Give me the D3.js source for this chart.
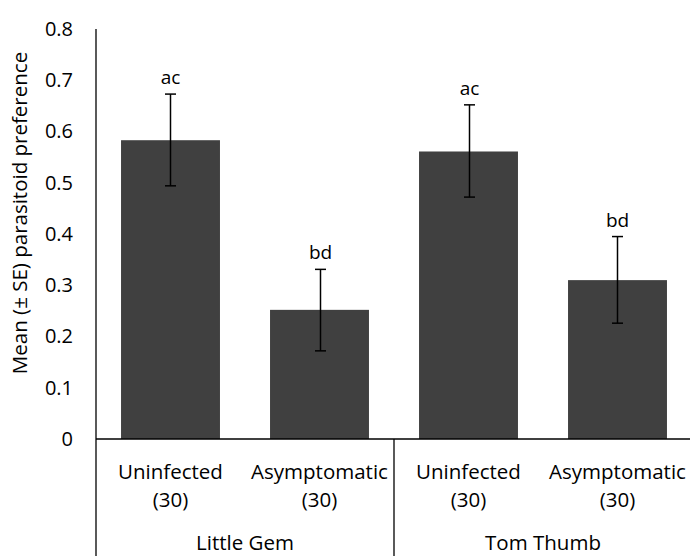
<!DOCTYPE html>
<html><head><meta charset="utf-8">
<script src="https://cdn.jsdelivr.net/npm/d3@7"></script>
<style>body{margin:0;background:#fff}svg{display:block}text{font-family:"Open Sans",sans-serif;fill:#000}</style>
</head><body><svg id="c" width="690" height="556"></svg>
<script>
const groups = ["Little Gem", "Tom Thumb"];
const treatments = ["Uninfected", "Asymptomatic"];
const sampleSizes = ["(30)", "(30)", "(30)", "(30)"];
const means = [0.583, 0.252, 0.561, 0.310];
const seUpper = [0.673, 0.331, 0.652, 0.395];
const seLower = [0.494, 0.172, 0.472, 0.226];
const letters = ["ac", "bd", "ac", "bd"];
const yTicks = [0, 0.1, 0.2, 0.3, 0.4, 0.5, 0.6, 0.7, 0.8];
const yTitle = "Mean (± SE) parasitoid preference";

(function () {
const bars = [];
groups.forEach((g, gi) => treatments.forEach((t, ti) => {
  const i = gi * treatments.length + ti;
  bars.push({id: i, group: g, treatment: t, n: sampleSizes[i], mean: means[i], hi: seUpper[i], lo: seLower[i], letter: letters[i]});
}));

const svg = d3.select("#c");
const mLeft = 96, mRight = 692, mTop = 29, mBase = 439, mBottom = 556;
const x = d3.scaleBand().domain(bars.map(d => d.id)).range([mLeft, mRight]).paddingInner(0.336).paddingOuter(0.168);
const y = d3.scaleLinear().domain([0, 0.8]).range([mBase, mTop]);

svg.append("g").selectAll("rect").data(bars).join("rect")
  .attr("x", d => x(d.id)).attr("width", x.bandwidth())
  .attr("y", d => y(d.mean)).attr("height", d => y(0) - y(d.mean))
  .attr("fill", "#404040");

const eb = svg.append("g").attr("stroke", "#000").attr("stroke-width", 1.5);
bars.forEach(d => {
  const cx = Math.round(x(d.id) + x.bandwidth() / 2) + 0.5;
  eb.append("line").attr("x1", cx).attr("x2", cx).attr("y1", y(d.hi)).attr("y2", y(d.lo));
  [d.hi, d.lo].forEach(v => eb.append("line").attr("x1", cx - 5.5).attr("x2", cx + 5.5).attr("y1", y(v)).attr("y2", y(v)));
  svg.append("text").attr("x", cx).attr("y", y(d.hi) - 10).attr("text-anchor", "middle")
    .style("font-size", "19px").text(d.letter);
});

const yAxis = svg.append("g").attr("transform", `translate(${mLeft},0)`)
  .call(d3.axisLeft(y).tickValues(yTicks).tickSize(0).tickPadding(23).tickFormat(d => d === 0 ? "0" : d3.format(".1f")(d)));
yAxis.select(".domain").remove();
yAxis.selectAll("text").style("font-size", "20px").style("font-family", "'Open Sans',sans-serif").attr("fill", "#000");

const lines = svg.append("g").attr("stroke", "#000").attr("stroke-width", 1.3);
lines.append("line").attr("x1", mLeft).attr("x2", mLeft).attr("y1", mTop).attr("y2", mBottom);
lines.append("line").attr("x1", mLeft).attr("x2", mRight).attr("y1", mBase).attr("y2", mBase);
const groupScale = d3.scaleBand().domain(groups).range([mLeft, mRight]);
groups.slice(1).forEach(g => lines.append("line").attr("x1", groupScale(g)).attr("x2", groupScale(g)).attr("y1", mBase).attr("y2", mBottom));

const cat = svg.append("g").attr("text-anchor", "middle").style("font-size", "20.5px");
bars.forEach(d => {
  const cx = x(d.id) + x.bandwidth() / 2;
  cat.append("text").attr("x", cx).attr("y", 479).text(d.treatment);
  cat.append("text").attr("x", cx).attr("y", 507).text(d.n);
});
groups.forEach(g => cat.append("text").attr("x", groupScale(g) + groupScale.bandwidth() / 2).attr("y", 550).text(g));

svg.append("text").attr("transform", "translate(27,213) rotate(-90)").attr("text-anchor", "middle")
  .style("font-size", "20.5px").text(yTitle);
})();
</script></body></html>
